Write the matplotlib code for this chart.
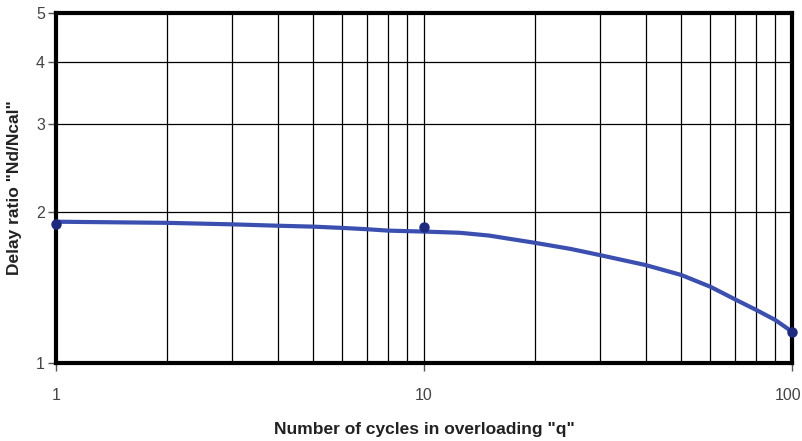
import matplotlib
matplotlib.use("Agg")
import matplotlib.pyplot as plt
import matplotlib.transforms as mtransforms
from matplotlib.ticker import FixedLocator, NullFormatter, NullLocator

# data
curve_x = [1, 2, 3, 4, 5, 6, 7, 8, 10, 12.5, 15, 20, 25, 30, 40, 50, 60, 70, 80, 90, 100]
curve_y = [1.915, 1.905, 1.892, 1.88, 1.872, 1.861, 1.85, 1.838, 1.83, 1.82, 1.797,
           1.738, 1.69, 1.643, 1.569, 1.499, 1.42, 1.34, 1.276, 1.219, 1.155]
marker_x = [1, 10, 100]
marker_y = [1.895, 1.87, 1.155]
x_ticks = [1, 10, 100]
x_ticklabels = ["1", "10", "100"]
y_ticks = [1, 2, 3, 4, 5]
y_ticklabels = ["1", "2", "3", "4", "5"]
x_grid = [2, 3, 4, 5, 6, 7, 8, 9, 10, 20, 30, 40, 50, 60, 70, 80, 90]

fam = ["Liberation Sans Narrow", "Liberation Sans", "DejaVu Sans"]

fig = plt.figure(figsize=(8.03, 4.41), dpi=100)
ax = fig.add_axes([0.0697, 0.1769, 0.9166, 0.7936])
ax.set_xscale("log")
ax.set_yscale("log")
ax.set_xlim(1, 100)
ax.set_ylim(1, 5)

for gx in x_grid:
    ax.axvline(gx, color="black", lw=0.9, zorder=1)
for gy in y_ticks[1:-1]:
    ax.axhline(gy, color="black", lw=0.9, zorder=1)

ax.plot(curve_x, curve_y, color="#3a4fb0", lw=3, zorder=3, solid_capstyle="butt")
ax.plot(marker_x, marker_y, "o", color="#1e2a80", ms=6.5, zorder=4, clip_on=False)

ax.xaxis.set_major_locator(FixedLocator(x_ticks))
ax.xaxis.set_minor_locator(NullLocator())
ax.set_xticklabels(x_ticklabels)
ax.yaxis.set_major_locator(FixedLocator(y_ticks))
ax.yaxis.set_minor_locator(NullLocator())
ax.yaxis.set_minor_formatter(NullFormatter())
ax.set_yticklabels(y_ticklabels)

ax.tick_params(axis="both", length=6, width=1, color="#555555", direction="out",
               labelsize=11.5, labelcolor="#444444")
ax.tick_params(axis="x", pad=12)
ax.tick_params(axis="y", pad=2)
for lab in ax.get_xticklabels() + ax.get_yticklabels():
    lab.set_family(fam)

# keep the "100" label inside the figure, as in the reference
last = ax.get_xticklabels()[-1]
last.set_horizontalalignment("right")
last.set_transform(last.get_transform() +
                   mtransforms.ScaledTranslation(9 / 100, 0, fig.dpi_scale_trans))

for s in ax.spines.values():
    s.set_linewidth(3)
    s.set_color("black")

ax.set_xlabel('Number of cycles in overloading "q"', fontsize=12.5, fontweight="bold",
              family=fam, color="#222222", labelpad=14)
ax.set_ylabel('Delay ratio "Nd/Ncal"', fontsize=12.5, fontweight="bold",
              family=fam, color="#222222", labelpad=10)

fig.savefig("out.png", dpi=100)
